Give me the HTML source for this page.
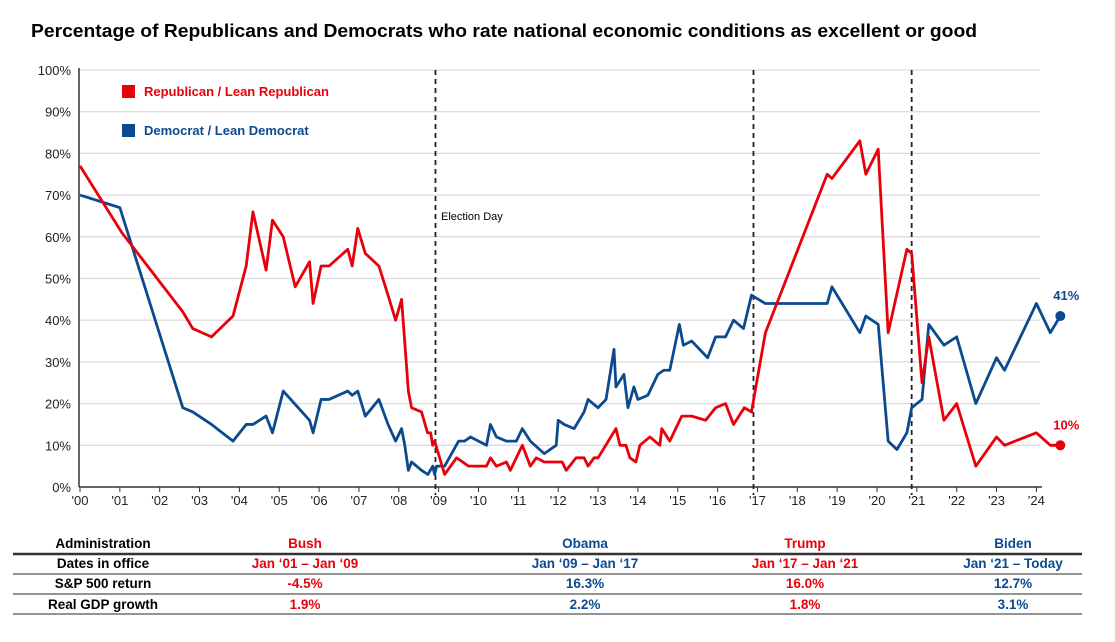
<!DOCTYPE html>
<html><head><meta charset="utf-8"><style>
body{margin:0;background:#fff;width:1115px;height:637px;overflow:hidden;font-family:"Liberation Sans",sans-serif}
svg text{font-family:"Liberation Sans",sans-serif}
</style></head><body>
<svg id="chart" width="1115" height="637" xmlns="http://www.w3.org/2000/svg">
<text x="31" y="37" font-size="18.5" font-weight="bold" fill="#000" textLength="946" lengthAdjust="spacingAndGlyphs">Percentage of Republicans and Democrats who rate national economic conditions as excellent or good</text>
<g id="grid"></g><g id="axes"></g><g id="lines"></g>
<g>
<rect x="122" y="85" width="13" height="13" fill="#e8000b"/>
<text x="144" y="96" font-size="13" font-weight="bold" fill="#e8000b">Republican / Lean Republican</text>
<rect x="122" y="124" width="13" height="13" fill="#0b4a8f"/>
<text x="144" y="135" font-size="13" font-weight="bold" fill="#0b4a8f">Democrat / Lean Democrat</text>
</g>
<text x="441" y="220" font-size="11" fill="#000">Election Day</text>
<g id="table"></g>
</svg>
<script>
const years=[0,1,2,3,4,5,6,7,8,9,10,11,12,13,14,15,16,17,18,19,20,21,22,23,24];
const yTicks=[0,10,20,30,40,50,60,70,80,90,100];
const electionDays=[8.92,16.9,20.87];
const repX=[0,1.05,2.58,2.83,3.3,3.84,4.17,4.34,4.67,4.83,5.1,5.4,5.76,5.85,6.05,6.25,6.72,6.83,6.97,7.16,7.5,7.73,7.92,8.07,8.24,8.32,8.57,8.72,8.8,8.85,8.9,9.15,9.45,9.75,10.2,10.3,10.45,10.7,10.8,11.1,11.3,11.45,11.65,12.1,12.2,12.45,12.65,12.75,12.9,13.0,13.45,13.55,13.7,13.8,13.95,14.05,14.3,14.55,14.6,14.8,15.1,15.35,15.7,15.95,16.2,16.4,16.67,16.85,17.2,18.75,18.87,19.57,19.72,20.03,20.28,20.75,20.87,21.13,21.3,21.68,22.0,22.48,23.0,23.2,24.0,24.35,24.6];
const repY=[77,61,42,38,36,41,53,66,52,64,60,48,54,44,53,53,57,53,62,56,53,46,40,45,23,19,18,13,13,10,11,3,7,5,5,7,5,6,4,10,5,7,6,6,4,7,7,5,7,7,14,10,10,7,6,10,12,10,14,11,17,17,16,19,20,15,19,18,37,75,74,83,75,81,37,57,56,25,36,16,20,5,12,10,13,10,10];
const demX=[0,1.0,2.58,2.83,3.3,3.84,4.17,4.34,4.67,4.83,5.1,5.76,5.85,6.05,6.25,6.72,6.83,6.97,7.16,7.5,7.73,7.92,8.07,8.15,8.24,8.32,8.57,8.73,8.85,8.9,8.95,9.15,9.5,9.65,9.8,10.2,10.3,10.45,10.7,10.95,11.1,11.3,11.65,11.95,12.0,12.15,12.4,12.65,12.75,13.0,13.2,13.4,13.45,13.65,13.75,13.9,14.0,14.25,14.5,14.65,14.8,15.04,15.14,15.35,15.75,15.95,16.2,16.4,16.65,16.85,17.2,18.75,18.87,19.57,19.72,20.03,20.28,20.5,20.75,20.87,21.13,21.3,21.68,22.0,22.48,23.0,23.2,24.0,24.35,24.6];
const demY=[70,67,19,18,15,11,15,15,17,13,23,16,13,21,21,23,22,23,17,21,15,11,14,10,4,6,4,3,5,3,5,5,11,11,12,10,15,12,11,11,14,11,8,10,16,15,14,18,21,19,21,33,24,27,19,24,21,22,27,28,28,39,34,35,31,36,36,40,38,46,44,44,48,37,41,39,11,9,13,19,21,39,34,36,20,31,28,44,37,41];
const endLabels=["41%","10%"];
const tableRows=[["Administration","Bush","Obama","Trump","Biden"],["Dates in office","Jan ‘01 – Jan ‘09","Jan ‘09 – Jan ‘17","Jan ‘17 – Jan ‘21","Jan ‘21 – Today"],["S&P 500 return","-4.5%","16.3%","16.0%","12.7%"],["Real GDP growth","1.9%","2.2%","1.8%","3.1%"]];

const NS="http://www.w3.org/2000/svg";
const X0=80,XS=39.85,Y0=487,YS=4.17;
const xs=v=>X0+v*XS, ys=v=>Y0-v*YS;
function mk(tag,attrs,parent,text){const e=document.createElementNS(NS,tag);for(const k in attrs)e.setAttribute(k,attrs[k]);if(text!==undefined)e.textContent=text;parent.appendChild(e);return e;}
const grid=document.getElementById('grid'),axes=document.getElementById('axes'),lines=document.getElementById('lines'),table=document.getElementById('table');
yTicks.forEach(t=>{
 if(t>0){const g=mk('line',{x1:X0,x2:1040,y1:ys(t),y2:ys(t),stroke:'#dcdcdc','stroke-width':1.3},grid);
 
 }
 const l=mk('text',{x:71,y:ys(t)+5,'text-anchor':'end','font-size':13,fill:'#222'},axes,t+'%');
 
 
});
const ya=mk('line',{x1:X0-1,x2:X0-1,y1:68,y2:Y0,stroke:'#333','stroke-width':1.5},axes);


const xa=mk('line',{x1:X0-1,x2:1042,y1:Y0,y2:Y0,stroke:'#333','stroke-width':1.5},axes);


years.forEach(yv=>{
 mk('line',{x1:xs(yv),x2:xs(yv),y1:Y0,y2:Y0+5,stroke:'#333','stroke-width':1},axes);
 const l=mk('text',{x:xs(yv),y:Y0+18,'text-anchor':'middle','font-size':13,fill:'#222'},axes,"'"+String(yv).padStart(2,'0'));
 
 
});
electionDays.forEach(d=>{
 const l=mk('line',{x1:xs(d),x2:xs(d),y1:70,y2:Y0+8,stroke:'#222','stroke-width':1.8,'stroke-dasharray':'5,4'},lines);
 
 
});
function series(X,Y,color,name){
 const p=mk('polyline',{points:X.map((x,i)=>xs(x)+','+ys(Y[i])).join(' '),fill:'none',stroke:color,'stroke-width':2.8,'stroke-linejoin':'round'},lines);
 
 
 const n=X.length-1;
 const c=mk('circle',{cx:xs(X[n]),cy:ys(Y[n]),r:5,fill:color},lines);
 
 
 return [xs(X[n]),ys(Y[n])];
}
const pb=series(demX,demY,'#0b4a8f','democrat');
const pr=series(repX,repY,'#e8000b','republican');
const lb=mk('text',{x:pb[0]+6,y:pb[1]-16,'text-anchor':'middle','font-size':13,'font-weight':'bold',fill:'#0b4a8f'},lines,endLabels[0]);


const lr=mk('text',{x:pr[0]+6,y:pr[1]-16,'text-anchor':'middle','font-size':13,'font-weight':'bold',fill:'#e8000b'},lines,endLabels[1]);


const colX=[103,305,585,805,1013],rowY=[548,568,588,609],lineY=[554,574,594,614];
const colColors=['#000','#e8000b','#0b4a8f','#e8000b','#0b4a8f'];
tableRows.forEach((row,r)=>{
 row.forEach((cell,c)=>{
  const t=mk('text',{x:colX[c],y:rowY[r],'text-anchor':'middle','font-size':13.5,'font-weight':'bold',fill:colColors[c]},table,cell);
  
  
 });
});
lineY.forEach((y,i)=>{
 const l=mk('line',{x1:13,x2:1082,y1:y,y2:y,stroke:i==0?'#333':'#555','stroke-width':i==0?2.5:1.2},table);
 
 
});
</script>
</body></html>
